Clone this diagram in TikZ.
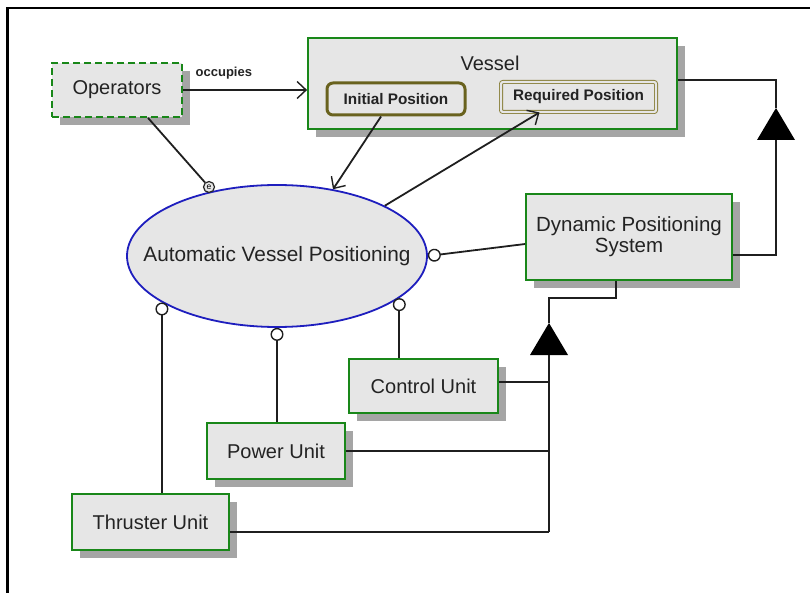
\documentclass[tikz,border=0pt]{standalone}
\usepackage{fontspec}
\setmainfont{Liberation Sans}
\usetikzlibrary{shapes.geometric,arrows.meta,shadows,calc}
\definecolor{boxgreen}{RGB}{25,135,25}
\definecolor{boxfill}{RGB}{230,230,230}
\definecolor{shadowgray}{RGB}{165,165,165}
\definecolor{textc}{RGB}{35,35,35}
\definecolor{ellblue}{RGB}{30,30,190}
\definecolor{olivedark}{RGB}{105,98,30}
\definecolor{olivelight}{RGB}{135,125,55}
\begin{document}
\begin{tikzpicture}[x=1pt,y=-1pt,
  mainfont/.style={font=\fontsize{20}{22}\selectfont},
  box/.style={draw=boxgreen, line width=1.8pt, fill=boxfill, text=textc, mainfont,
    inner sep=0pt, align=center,
    drop shadow={shadow xshift=8pt, shadow yshift=-8pt, fill=shadowgray, opacity=1}},
  smallbold/.style={font=\fontsize{15.3}{17}\selectfont\bfseries, text=textc},
  conn/.style={draw=black!88, line width=1.8pt},
  openarrow/.style={-{Straight Barb[length=9pt,width=17pt,line width=1.4pt]}},
  ballend/.style={{Circle[length=13pt,width=13pt,fill=white,line width=1.4pt]}-},
  gentri/.style={fill=black}]
\useasboundingbox (0,0) rectangle (810,593);
% frame
\draw[line width=2.6pt] (7.5,593) -- (7.5,8) -- (810,8);

% nodes
\node[box, minimum width=130pt, minimum height=54pt, dash pattern=on 7pt off 4pt] (ops) at (117,90) {Operators};
\node[box, minimum width=369pt, minimum height=91pt] (vessel) at (492.5,83.5) {};
\node[mainfont, text=textc, inner sep=0pt] (vesselname) at (490,63) {Vessel};
\node[draw=olivedark, line width=3pt, rounded corners=6pt, fill=boxfill, smallbold,
      minimum width=138pt, minimum height=32pt, inner sep=0pt] (init) at (396,99) {Initial Position};
\node[draw=olivelight, line width=0.9pt, double=boxfill, double distance=2.2pt, fill=boxfill, smallbold,
      rounded corners=2pt, minimum width=155pt, minimum height=30pt, inner sep=0pt] (req) at (578.5,97) {Required Position};
\node[ellipse, draw=ellblue, line width=1.8pt, fill=boxfill, minimum width=300pt, minimum height=142pt,
      inner sep=0pt, label={[font=\fontsize{20.8}{22}\selectfont, text=textc]center:Automatic Vessel Positioning}] (avp) at (277,256) {};
\node[box, minimum width=206pt, minimum height=86pt, font=\fontsize{20.5}{21}\selectfont] (dps) at (629,237) {Dynamic Positioning\\System};
\node[box, minimum width=149pt, minimum height=54pt] (ctrl) at (423.5,386) {Control Unit};
\node[box, minimum width=138pt, minimum height=56pt] (pwr) at (276,451) {Power Unit};
\node[box, minimum width=157pt, minimum height=56pt] (thr) at (150.5,522) {Thruster Unit};
\node[circle, draw=black!85, line width=1.2pt, fill=boxfill, minimum size=11pt, inner sep=0pt,
      font=\fontsize{8.5}{8.5}\selectfont] (eop) at (209,187) {e};

% connectors
\draw[conn, openarrow] (ops.east) -- (ops.east -| vessel.west)
  node[pos=0.33, above=10pt, font=\fontsize{13}{14}\selectfont\bfseries, text=textc, inner sep=0pt] {occupies};
\draw[conn] ([xshift=31pt]ops.south) -- (eop);
\draw[conn, openarrow] ([xshift=-15pt]init.south) -- (avp.50);
\draw[conn, openarrow] (avp.25) -- ([xshift=-39pt]req.south);
\draw[conn, ballend] (avp.east) -- ([yshift=-7pt]dps.west);
\draw[conn, ballend] (avp.202) -- (avp.202 |- thr.north);
\draw[conn, ballend] (avp.south) -- (avp.south |- pwr.north);
\draw[conn, ballend] (avp.341.7) -- (avp.341.7 |- ctrl.north);

% generalization to Vessel
\coordinate (t1) at (776,108);
\coordinate (t1b) at (776,140);
\draw[conn] ([yshift=3.5pt]vessel.east) -| (t1);
\fill[gentri] (t1) -- ($(t1b)+(19,0)$) -- ($(t1b)+(-19,0)$) -- cycle;
\draw[conn] (t1b) |- ([yshift=-18pt]dps.east);

% generalization to DPS
\coordinate (t2) at (549,323);
\coordinate (t2b) at (549,355);
\coordinate (bend) at (549,298);
\draw[conn] ([xshift=-13pt]dps.south) |- (bend) -- (t2);
\fill[gentri] (t2) -- ($(t2b)+(19,0)$) -- ($(t2b)+(-19,0)$) -- cycle;
\coordinate (thrE) at ([yshift=-10pt]thr.east);
\draw[conn] (t2b) -- (t2b |- thrE);
\draw[conn] ([yshift=4pt]ctrl.east) -- ([yshift=4pt]ctrl.east -| t2b);
\draw[conn] (pwr.east) -- (pwr.east -| t2b);
\draw[conn] (thrE) -- (thrE -| t2b);
\end{tikzpicture}
\end{document}
